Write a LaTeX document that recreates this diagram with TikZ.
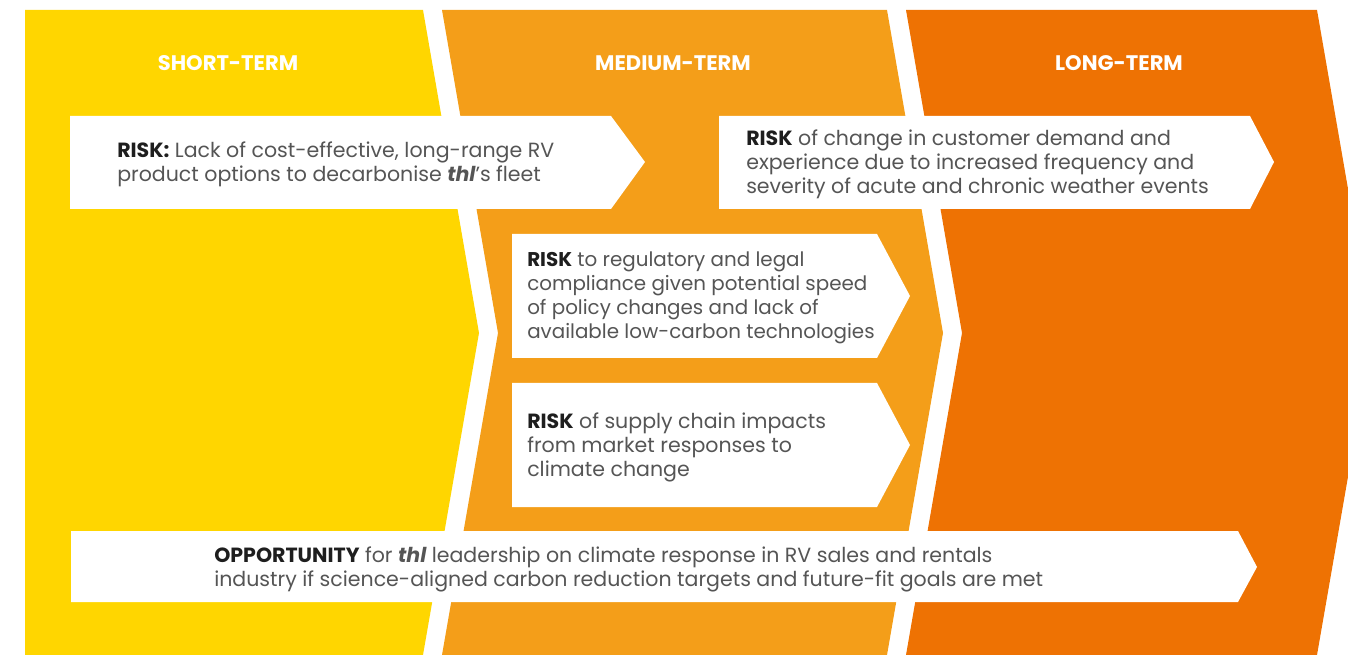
\documentclass[tikz,border=0pt]{standalone}
\usepackage{fontspec}
\setmainfont{Poppins}
\usepackage{xcolor}
\usepackage{tikz}

\definecolor{shortyellow}{HTML}{FFD600}
\definecolor{midorange}{HTML}{F49E19}
\definecolor{longorange}{HTML}{EE7203}
\definecolor{bodygray}{HTML}{555555}
\definecolor{leadblack}{HTML}{1E1E1E}

\newcommand{\lead}[1]{{\bfseries\color{leadblack}#1}}
\newcommand{\thl}{{\bfseries\itshape thl}}

\tikzset{
  horizon/.style={font=\fontsize{15.8}{18}\selectfont\bfseries, text=white},
  itemtext/.style={anchor=west, align=left, inner sep=0pt,
    font=\fontsize{15.4}{18}\selectfont, text=bodygray},
  itembox/.style={fill=white}
}

\begin{document}
\begin{tikzpicture}[x=0.75pt, y=-0.75pt, line join=miter]
    \useasboundingbox (0,0) rectangle (1348,655);
    \clip (0,0) rectangle (1348,655);

    % --- Time horizon chevrons ---
    \fill[shortyellow]
        (25,10) -- (423,10) -- (479,333) -- (423,655) -- (25,655) -- cycle;
    \fill[midorange]
        (442,10) -- (887,10) -- (943,333) -- (887,655) -- (442,655) -- (498,333) -- cycle;
    \fill[longorange]
        (906,10) -- (1317,10) -- (1373,333) -- (1317,655) -- (906,655) -- (962,333) -- cycle;

    % --- Horizon headings ---
    \node[horizon] (short) at (228,63) {SHORT-TERM};
    \node[horizon] (medium) at (673,63) {MEDIUM-TERM};
    \node[horizon] (long) at (1119,63) {LONG-TERM};

    % --- Risk and opportunity arrows ---
    % short-term fleet risk
    \fill[itembox] (70,116) -- (611,116) -- (645,162) -- (611,209) -- (70,209) -- cycle;
    \node[itemtext] (fleet) at (117,164)
        {\lead{RISK:} Lack of cost-effective, long-range RV\\
         product options to decarbonise \thl's fleet};

    % long-term demand risk
    \fill[itembox] (719,116) -- (1250,116) -- (1274,162) -- (1250,209) -- (719,209) -- cycle;
    \node[itemtext] (demand) at (746,164)
        {\lead{RISK} of change in customer demand and\\
         experience due to increased frequency and\\
         severity of acute and chronic weather events};

    % medium-term compliance risk
    \fill[itembox] (512,234) -- (877,234) -- (910,296) -- (877,358) -- (512,358) -- cycle;
    \node[itemtext, font=\fontsize{14.9}{18}\selectfont] (compliance) at (527,298)
        {\lead{RISK} to regulatory and legal\\
         compliance given potential speed\\
         of policy changes and lack of\\
         available low-carbon technologies};

    % medium-term supply chain risk
    \fill[itembox] (512,383) -- (877,383) -- (910,445) -- (877,507) -- (512,507) -- cycle;
    \node[itemtext] (supply) at (527,447)
        {\lead{RISK} of supply chain impacts\\
         from market responses to\\
         climate change};

    % opportunity across all horizons
    \fill[itembox] (71,531) -- (1238,531) -- (1257,567) -- (1238,602) -- (71,602) -- cycle;
    \node[itemtext] (opportunity) at (214,569)
        {\lead{OPPORTUNITY} for \thl{} leadership on climate response in RV sales and rentals\\
         industry if science-aligned carbon reduction targets and future-fit goals are met};

\end{tikzpicture}
\end{document}
